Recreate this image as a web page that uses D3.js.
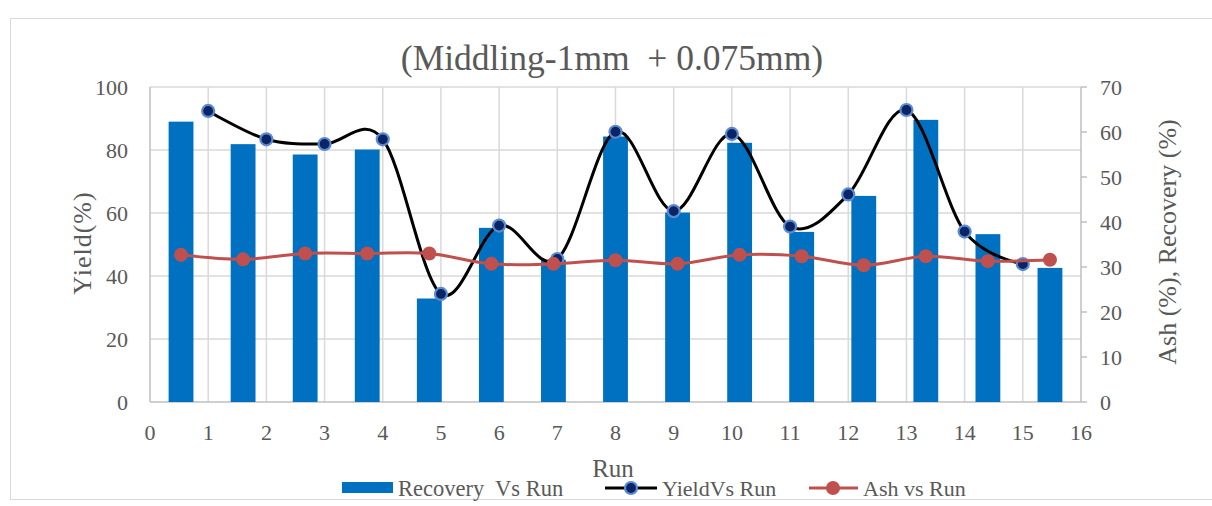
<!DOCTYPE html>
<html><head><meta charset="utf-8">
<script src="https://cdn.jsdelivr.net/npm/d3@7"></script>
<style>
html,body{margin:0;padding:0;background:#fff;}
svg{display:block;font-family:"Liberation Serif","Times New Roman",serif;}
text{white-space:pre;}
</style></head>
<body><svg id="c" width="1212" height="506"></svg>
<script>
const runs = [1,2,3,4,5,6,7,8,9,10,11,12,13,14,15];
const recovery = [62.3,57.3,55.0,56.1,23.0,38.7,31.6,59.0,42.1,57.6,37.8,45.8,62.7,37.3,29.8];
const yieldVals = [92.4,83.4,81.9,83.4,34.3,56.0,45.4,85.8,60.6,85.1,55.7,65.9,92.7,54.1,43.8];
const ash = [32.7,31.7,33.0,33.0,33.0,30.7,30.7,31.5,30.7,32.7,32.4,30.4,32.4,31.3,31.6];
const xTicks = d3.range(0,17);
const yLeftTicks = [0,20,40,60,80,100];
const yRightTicks = [0,10,20,30,40,50,60,70];

const svg = d3.select("#c");
const textColor = "#595959";
const L = 150, R = 1081, T = 87, B = 402;

// outer border
svg.append("rect").attr("x",10.5).attr("y",18.5).attr("width",1210).attr("height",481)
  .attr("fill","none").attr("stroke","#d9d9d9").attr("stroke-width",1);

const x = d3.scaleLinear().domain([0,16]).range([L,R]);
const xb = d3.scaleBand().domain(runs).range([L,R]).paddingInner(0.6).paddingOuter(0.3);
const yL = d3.scaleLinear().domain([0,100]).range([B,T]);
const yR = d3.scaleLinear().domain([0,70]).range([B,T]);

// gridlines
const g = svg.append("g");
g.selectAll(".hg").data(yLeftTicks.filter(d=>d>0)).join("line")
  .attr("x1",L).attr("x2",R).attr("y1",d=>yL(d)).attr("y2",d=>yL(d))
  .attr("stroke","#d9d9d9").attr("stroke-width",1.5);
g.selectAll(".vg").data(xTicks.filter(d=>d>0 && d<16)).join("line")
  .attr("x1",d=>x(d)).attr("x2",d=>x(d)).attr("y1",T).attr("y2",B)
  .attr("stroke","#d9d9d9").attr("stroke-width",1.5);

// axes lines
svg.append("line").attr("x1",L).attr("x2",L).attr("y1",T).attr("y2",B).attr("stroke","#bfbfbf").attr("stroke-width",1.5);
svg.append("line").attr("x1",L).attr("x2",R).attr("y1",B).attr("y2",B).attr("stroke","#bfbfbf").attr("stroke-width",1.5);
svg.append("line").attr("x1",R).attr("x2",R).attr("y1",T).attr("y2",B).attr("stroke","#bfbfbf").attr("stroke-width",1.5);
svg.selectAll(".rt").data(yRightTicks).join("line")
  .attr("x1",R).attr("x2",R+6).attr("y1",d=>yR(d)).attr("y2",d=>yR(d))
  .attr("stroke","#bfbfbf").attr("stroke-width",1.5);

// bars
svg.append("g").selectAll("rect").data(runs).join("rect")
  .attr("x",d=>xb(d)).attr("width",xb.bandwidth())
  .attr("y",(d,i)=>yR(recovery[i])).attr("height",(d,i)=>B-yR(recovery[i]))
  .attr("fill","#0070c0");

// yield line
const yieldPts = runs.map((r,i)=>[x(r), yL(yieldVals[i])]);
svg.append("path").attr("d", d3.line().curve(d3.curveCardinal.tension(0))(yieldPts))
  .attr("fill","none").attr("stroke","#000").attr("stroke-width",3);
svg.append("g").selectAll("circle").data(yieldPts).join("circle")
  .attr("cx",d=>d[0]).attr("cy",d=>d[1]).attr("r",6)
  .attr("fill","#0b2466").attr("stroke","#5b8ad0").attr("stroke-width",2.2);

// ash line
const ashPts = runs.map((r,i)=>[xb(r)+xb.bandwidth()/2, yR(ash[i])]);
svg.append("path").attr("d", d3.line().curve(d3.curveCardinal.tension(0))(ashPts))
  .attr("fill","none").attr("stroke","#c0504d").attr("stroke-width",3);
svg.append("g").selectAll("circle").data(ashPts).join("circle")
  .attr("cx",d=>d[0]).attr("cy",d=>d[1]).attr("r",7)
  .attr("fill","#c0504d");

// tick labels
svg.append("g").selectAll("text").data(yLeftTicks).join("text")
  .attr("x",128).attr("y",d=>yL(d)).attr("dy","0.35em").attr("text-anchor","end")
  .attr("fill",textColor).attr("font-size",22).text(d=>d);
svg.append("g").selectAll("text").data(yRightTicks).join("text")
  .attr("x",1100).attr("y",d=>yR(d)).attr("dy","0.35em").attr("text-anchor","start")
  .attr("fill",textColor).attr("font-size",22).text(d=>d);
svg.append("g").selectAll("text").data(xTicks).join("text")
  .attr("x",d=>x(d)).attr("y",440).attr("text-anchor","middle")
  .attr("fill",textColor).attr("font-size",22).text(d=>d);

// titles
svg.append("text").attr("x",612).attr("y",70).attr("text-anchor","middle")
  .attr("fill",textColor).attr("font-size",35.5)
  .text("(Middling-1mm  + 0.075mm)");
svg.append("text").attr("x",613).attr("y",477).attr("text-anchor","middle")
  .attr("fill",textColor).attr("font-size",25).text("Run");
svg.append("text").attr("transform","translate(91,243) rotate(-90)").attr("text-anchor","middle")
  .attr("fill",textColor).attr("font-size",26).attr("letter-spacing",1).text("Yield(%)");
svg.append("text").attr("transform","translate(1176,242) rotate(-90)").attr("text-anchor","middle")
  .attr("fill",textColor).attr("font-size",26).text("Ash (%), Recovery (%)");

// legend
const lg = svg.append("g");
const ly = 488;
lg.append("rect").attr("x",342).attr("y",ly-6).attr("width",51).attr("height",11).attr("fill","#0070c0");
lg.append("text").attr("x",398).attr("y",ly).attr("dy","0.35em").attr("fill",textColor).attr("font-size",22.5).text("Recovery  Vs Run");
lg.append("line").attr("x1",605).attr("x2",657).attr("y1",ly).attr("y2",ly).attr("stroke","#000").attr("stroke-width",3);
lg.append("circle").attr("cx",631).attr("cy",ly).attr("r",6).attr("fill","#0b2466").attr("stroke","#5b8ad0").attr("stroke-width",2.2);
lg.append("text").attr("x",662).attr("y",ly).attr("dy","0.35em").attr("fill",textColor).attr("font-size",22).text("YieldVs Run");
lg.append("line").attr("x1",809).attr("x2",858).attr("y1",ly).attr("y2",ly).attr("stroke","#c0504d").attr("stroke-width",3);
lg.append("circle").attr("cx",833).attr("cy",ly).attr("r",7).attr("fill","#c0504d");
lg.append("text").attr("x",863).attr("y",ly).attr("dy","0.35em").attr("fill",textColor).attr("font-size",22).text("Ash vs Run");
</script></body></html>
